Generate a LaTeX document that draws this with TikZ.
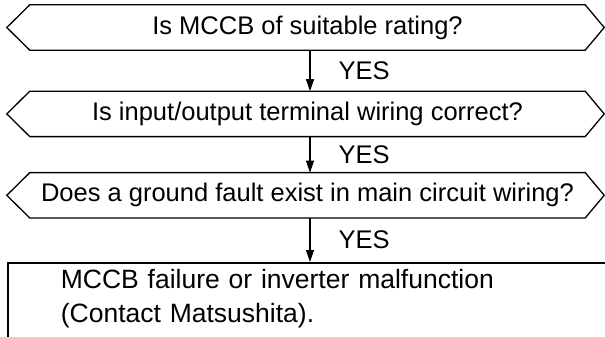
\documentclass[tikz,border=0pt]{standalone}
\usepackage{fontspec}
\setmainfont{Liberation Sans}
\usetikzlibrary{arrows.meta,positioning}
\definecolor{flowInk}{HTML}{000000}
\tikzset{
  query/.style={
    rectangle,
    minimum width=555pt,
    minimum height=45pt,
    inner sep=0pt,
    text=flowInk,
    font=\fontsize{25.5}{30}\selectfont
  },
  queryEdge/.style={
    line width=1.3pt,
    draw=flowInk,
    line join=miter
  },
  flowArrow/.style={
    -{Triangle[length=12pt,width=8pt]},
    line width=1.1pt,
    draw=flowInk
  },
  yesLabel/.style={
    right=28pt,
    inner sep=0pt,
    text=flowInk,
    font=\fontsize{25.5}{30}\selectfont
  },
  resultBox/.style={
    rectangle,
    draw=flowInk,
    line width=1.7pt,
    align=left,
    text width=580pt,
    inner xsep=53pt,
    inner ysep=6pt,
    text depth=70pt,
    font=\fontsize{26.5}{34}\selectfont
  }
}

\begin{document}
\begin{tikzpicture}[x=1pt,y=1pt]
  \useasboundingbox (0,0) rectangle (605,-337);
  \clip (0,0) rectangle (605,-337);
  \node[query] (rating) at (307.5,-27.5) {Is MCCB of suitable rating?};
  \node[query,below=41pt of rating] (wiring) {Is input/output terminal wiring correct?};
  \node[query,below=36pt of wiring] (ground) {Does a ground fault exist in main circuit wiring?};
  \node[resultBox,anchor=north west] (failure) at (7,-262)
    {MCCB failure or inverter malfunction\\(Contact Matsushita).};
  % hexagon outlines round the questions
  \foreach \q in {rating,wiring,ground}
    \draw[queryEdge] (\q.north west) -- (\q.north east) -- ([xshift=19pt]\q.east)
      -- (\q.south east) -- (\q.south west) -- ([xshift=-23pt]\q.west) -- cycle;
  \draw[flowArrow] ([xshift=2.5pt]rating.south) -- ([xshift=2.5pt]wiring.north)
    node[yesLabel,midway] {YES};
  \draw[flowArrow] ([xshift=2.5pt]wiring.south) -- ([xshift=2.5pt]ground.north)
    node[yesLabel,midway] {YES};
  \draw[flowArrow] ([xshift=2.5pt]ground.south) -- ([xshift=2.5pt]ground.south |- failure.north)
    node[yesLabel,midway] {YES};
\end{tikzpicture}
\end{document}
